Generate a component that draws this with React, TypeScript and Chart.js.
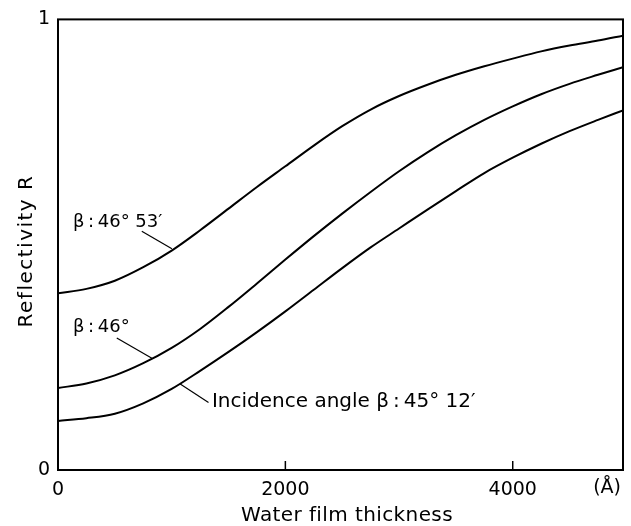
import React, { useEffect, useRef } from "react";
import { Chart, registerables } from "chart.js";

Chart.register(...registerables);

// Water film thickness (Å)
const thickness = [0, 250, 500, 750, 1000, 1250, 1500, 1750, 2000, 2250, 2500, 2750, 3000, 3250, 3500, 3750, 4000, 4250, 4500, 4750, 4970];
// Reflectivity R for incidence angles
const r46deg53 = [0.392, 0.402, 0.420, 0.450, 0.487, 0.532, 0.580, 0.628, 0.674, 0.720, 0.763, 0.800, 0.830, 0.855, 0.877, 0.896, 0.913, 0.929, 0.942, 0.953, 0.964];
const r46deg = [0.182, 0.192, 0.210, 0.237, 0.271, 0.313, 0.362, 0.414, 0.467, 0.519, 0.569, 0.617, 0.663, 0.705, 0.743, 0.777, 0.807, 0.834, 0.857, 0.877, 0.894];
const r45deg12 = [0.109, 0.115, 0.125, 0.148, 0.180, 0.220, 0.262, 0.306, 0.352, 0.400, 0.448, 0.494, 0.536, 0.578, 0.619, 0.659, 0.693, 0.724, 0.752, 0.777, 0.798];

const xTickValues = [0, 2000, 4000];
const yTickValues = [0, 1];
const xMax = 4970;
const xUnitLabel = "(Å)";
const xUnitAt = 4830;
const xTitle = "Water film thickness";
const yTitle = "Reflectivity R";

// curve labels (data coordinates)
const labelTexts = ["β\u2009:\u200946° 53′", "β\u2009:\u200946°", "Incidence angle β\u2009:\u200945° 12′"];
const labelSizes = [18, 18, 20];
const labelAnchors = [[132, 0.55], [132, 0.317], [1354, 0.152]];
const leaderStarts = [[737, 0.53], [517, 0.293], [1075, 0.191]];
const leaderEnds = [[1002, 0.491], [826, 0.248], [1324, 0.15]];

const FAMILY = "'DejaVu Sans'";

const decorPlugin = {
  id: "decor",
  afterDraw(chart: any) {
    const { ctx, chartArea, scales } = chart;
    const xs = scales.x;
    const ys = scales.y;
    ctx.save();
    ctx.strokeStyle = "#000";
    ctx.fillStyle = "#000";
    // frame
    ctx.lineWidth = 2;
    ctx.strokeRect(chartArea.left, chartArea.top, chartArea.right - chartArea.left, chartArea.bottom - chartArea.top);
    // inward tick marks
    ctx.lineWidth = 1.5;
    xTickValues.slice(1).forEach((v) => {
      const px = xs.getPixelForValue(v);
      ctx.beginPath();
      ctx.moveTo(px, chartArea.bottom);
      ctx.lineTo(px, chartArea.bottom - 9);
      ctx.stroke();
    });
    // unit label
    ctx.font = `19px ${FAMILY}`;
    ctx.textAlign = "center";
    ctx.textBaseline = "top";
    ctx.fillText(xUnitLabel, xs.getPixelForValue(xUnitAt), chartArea.bottom + 9);
    // axis titles
    ctx.font = `20px ${FAMILY}`;
    ctx.textAlign = "center";
    ctx.textBaseline = "alphabetic";
    (ctx as any).letterSpacing = "0.4px";
    ctx.fillText(xTitle, 347, 520.5);
    ctx.save();
    ctx.translate(32, 251);
    ctx.rotate(-Math.PI / 2);
    (ctx as any).letterSpacing = "1.5px";
    ctx.fillText(yTitle, 0, 0);
    ctx.restore();
    (ctx as any).letterSpacing = "0px";
    // curve labels
    ctx.lineWidth = 1.2;
    labelTexts.forEach((t, i) => {
      ctx.font = `${labelSizes[i]}px ${FAMILY}`;
      ctx.textAlign = "left";
      ctx.textBaseline = "middle";
      ctx.fillText(t, xs.getPixelForValue(labelAnchors[i][0]), ys.getPixelForValue(labelAnchors[i][1]));
      ctx.beginPath();
      ctx.moveTo(xs.getPixelForValue(leaderStarts[i][0]), ys.getPixelForValue(leaderStarts[i][1]));
      ctx.lineTo(xs.getPixelForValue(leaderEnds[i][0]), ys.getPixelForValue(leaderEnds[i][1]));
      ctx.stroke();
    });
    ctx.restore();
  },
};

export default function App() {
  const ref = useRef<HTMLCanvasElement>(null);
  useEffect(() => {
    if (!ref.current) return;
    const mk = (data: number[]) => ({
      data: thickness.map((x, i) => ({ x, y: data[i] })),
      borderColor: "#000",
      borderWidth: 2,
      pointRadius: 0,
      cubicInterpolationMode: "monotone" as const,
      fill: false,
    });
    const chart = new Chart(ref.current, {
      type: "line",
      data: {
        datasets: [mk(r46deg53), mk(r46deg), mk(r45deg12)],
      },
      options: {
        animation: false,
        responsive: false,
        devicePixelRatio: 1,
        layout: { padding: { left: 0, right: 8, top: 15, bottom: 0 } },
        plugins: { legend: { display: false }, tooltip: { enabled: false } },
        scales: {
          x: {
            type: "linear",
            min: 0,
            max: xMax,
            afterBuildTicks: (s: any) => {
              s.ticks = xTickValues.map((v) => ({ value: v }));
            },
            afterFit: (s: any) => {
              s.height = 56;
            },
            ticks: {
              color: "#000",
              font: { family: FAMILY, size: 19 },
              padding: 9,
              maxRotation: 0,
              autoSkip: false,
              callback: (v: any) => String(v),
            },
            grid: { display: false, drawTicks: false },
            border: { display: false },
          },
          y: {
            type: "linear",
            min: 0,
            max: 1,
            afterBuildTicks: (s: any) => {
              s.ticks = yTickValues.map((v) => ({ value: v }));
            },
            afterFit: (s: any) => {
              s.width = 58;
            },
            ticks: {
              color: "#000",
              font: { family: FAMILY, size: 19 },
              padding: 8,
              callback: (v: any) => String(v),
            },
            grid: { display: false, drawTicks: false },
            border: { display: false },
          },
        },
      },
      plugins: [decorPlugin],
    });
    return () => chart.destroy();
  }, []);
  return (
    <div style={{ position: "fixed", left: 0, top: 0, width: 631, height: 526, background: "#fff" }}>
      <canvas ref={ref} width={631} height={526} />
    </div>
  );
}
